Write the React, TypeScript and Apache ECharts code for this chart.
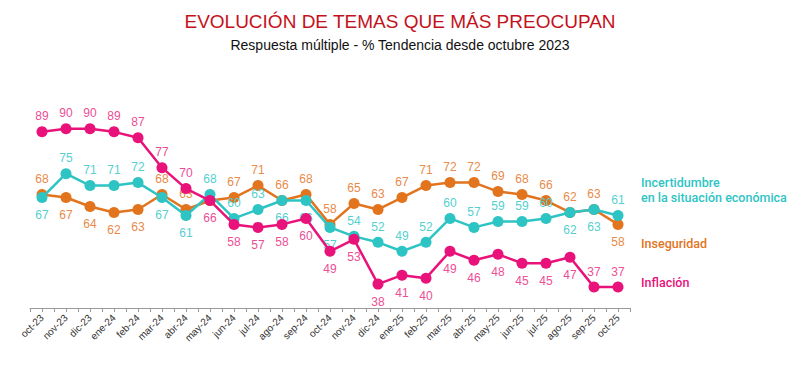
import React, { useEffect, useRef } from "react";
import * as echarts from "echarts";

const months = [
  "oct-23", "nov-23", "dic-23", "ene-24", "feb-24", "mar-24", "abr-24", "may-24", "jun-24",
  "jul-24", "ago-24", "sep-24", "oct-24", "nov-24", "dic-24", "ene-25", "feb-25", "mar-25",
  "abr-25", "may-25", "jun-25", "jul-25", "ago-25", "sep-25", "oct-25",
];

const inflacion = [89, 90, 90, 89, 87, 77, 70, 66, 58, 57, 58, 60, 49, 53, 38, 41, 40, 49, 46, 48, 45, 45, 47, 37, 37];
const inseguridad = [68, 67, 64, 62, 63, 68, 63, 66, 67, 71, 66, 68, 58, 65, 63, 67, 71, 72, 72, 69, 68, 66, 62, 63, 58];
const incertidumbre = [67, 75, 71, 71, 72, 67, 61, 68, 60, 63, 66, 66, 57, 54, 52, 49, 52, 60, 57, 59, 59, 60, 62, 63, 61];

// label placement: indices whose label sits below the point
const inflacionBelow = [7, 8, 9, 10, 11, 12, 13, 14, 15, 16, 17, 18, 19, 20, 21, 22];
const inseguridadBelow = [1, 2, 3, 4, 24];
const inseguridadHidden = [7];
const incertidumbreBelow = [0, 5, 6, 10, 11, 12, 22, 23];

const PINK = "#E8127A";
const ORANGE = "#E2741E";
const TEAL = "#2EC4C4";
const PINK_L = "#EC4E95";
const ORANGE_L = "#E88A48";
const TEAL_L = "#55CFCF";

function buildData(values: number[], below: number[], color: string, hidden: number[] = []) {
  return values.map((v, i) => ({
    value: v,
    label: {
      show: !hidden.includes(i),
      position: below.includes(i) ? "bottom" : "top",
      distance: below.includes(i) ? 6 : 4,
      color,
    },
  }));
}

export default function App() {
  const ref = useRef<HTMLDivElement>(null);
  useEffect(() => {
    if (!ref.current) return;
    const chart = echarts.init(ref.current, null, { renderer: "svg" });
    const labelFont = { fontSize: 12, fontFamily: "Liberation Sans, Arial, sans-serif" };
    const mkSeries = (name: string, values: number[], below: number[], color: string, lcolor: string, z: number, hidden: number[] = []) => ({
      name,
      type: "line",
      xAxisIndex: 0,
      yAxisIndex: 0,
      data: buildData(values, below, lcolor, hidden),
      symbol: "circle",
      symbolSize: 11,
      z,
      lineStyle: { color, width: 2.5 },
      itemStyle: { color },
      label: { show: true, ...labelFont },
      emphasis: { disabled: true },
    });
    const legendStyle = { fontSize: 12.5, fontWeight: 500, fontFamily: "Roboto, sans-serif", verticalAlign: "middle" };
    chart.setOption({
      animation: false,
      title: [
        {
          text: "EVOLUCIÓN DE TEMAS QUE MÁS PREOCUPAN",
          left: "center",
          top: 7,
          textStyle: { color: "#C4121C", fontSize: 19, fontWeight: "normal", fontFamily: "Liberation Sans Narrow, Liberation Sans, Arial, sans-serif" },
        },
        {
          text: "Respuesta múltiple - % Tendencia desde octubre 2023",
          left: "center",
          top: 33,
          textStyle: { color: "#111", fontSize: 14, fontWeight: "normal", fontFamily: "Liberation Sans Narrow, Liberation Sans, Arial, sans-serif" },
        },
      ],
      grid: { left: 30, right: 170, top: 99, bottom: 59 },
      xAxis: [
        {
          type: "category",
          data: months,
          boundaryGap: true,
          axisLine: { show: false },
          axisTick: { show: false },
          axisLabel: {
            rotate: 45,
            interval: 0,
            fontSize: 10,
            color: "#333",
            margin: 8,
            fontFamily: "Liberation Sans, Arial, sans-serif",
          },
        },
        {
          type: "value",
          position: "bottom",
          min: 0,
          max: 50,
          interval: 1,
          axisLine: { show: true, lineStyle: { color: "#9A9A9A", width: 1 } },
          axisTick: { show: true, length: 4, lineStyle: { color: "#9A9A9A" } },
          axisLabel: { show: false },
          splitLine: { show: false },
        },
      ],
      yAxis: {
        type: "value",
        min: 30,
        max: 100,
        show: false,
        splitLine: { show: false },
      },
      graphic: [
        { type: "text", x: 641, y: 182, style: { text: "Incertidumbre", fill: TEAL, ...legendStyle } },
        { type: "text", x: 641, y: 197, style: { text: "en la situación económica", fill: TEAL, ...legendStyle } },
        { type: "text", x: 641, y: 243, style: { text: "Inseguridad", fill: ORANGE, ...legendStyle } },
        { type: "text", x: 641, y: 282, style: { text: "Inflación", fill: PINK, ...legendStyle } },
      ],
      series: [
        mkSeries("Inseguridad", inseguridad, inseguridadBelow, ORANGE, ORANGE_L, 2, inseguridadHidden),
        mkSeries("Incertidumbre en la situación económica", incertidumbre, incertidumbreBelow, TEAL, TEAL_L, 3),
        mkSeries("Inflación", inflacion, inflacionBelow, PINK, PINK_L, 4),
      ],
    });
    return () => chart.dispose();
  }, []);
  return <div ref={ref} style={{ position: "absolute", left: 0, top: 0, width: 800, height: 367 }} />;
}
